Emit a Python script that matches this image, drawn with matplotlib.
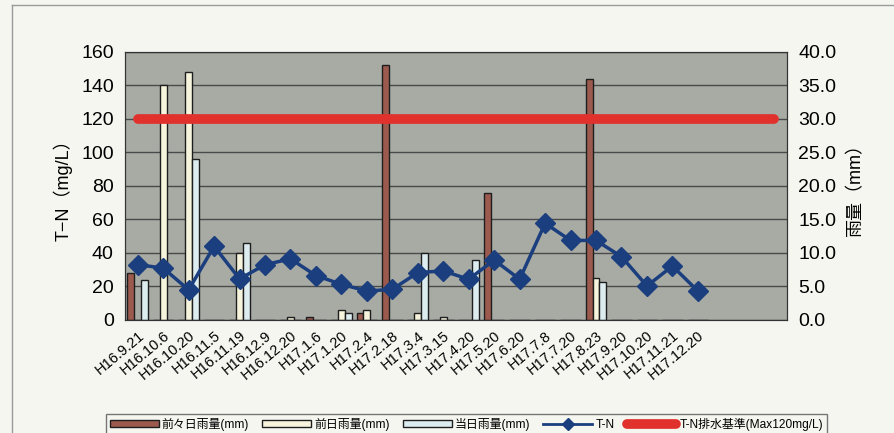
import numpy as np
import matplotlib.pyplot as plt
from matplotlib.lines import Line2D
from matplotlib.patches import Patch

plt.rcParams['font.family'] = ['Liberation Sans', 'Noto Sans CJK JP', 'DejaVu Sans']

# ── Data ───────────────────────────────────────────────────
dates = ["H16.9.21", "H16.10.6", "H16.10.20", "H16.11.5", "H16.11.19", "H16.12.9",
         "H16.12.20", "H17.1.6", "H17.1.20", "H17.2.4", "H17.2.18", "H17.3.4",
         "H17.3.15", "H17.4.20", "H17.5.20", "H17.6.20", "H17.7.8", "H17.7.20",
         "H17.8.23", "H17.9.20", "H17.10.20", "H17.11.21", "H17.12.20"]
n_slots = 26  # category axis has three empty slots at the right

rain_2days = [7.0, 0, 0, 0, 0, 0, 0, 0.5, 0, 1.0, 38.0, 0, 0, 0, 19.0, 0, 0, 0,
              36.0, 0, 0, 0, 0]
rain_1day = [0, 35.0, 37.0, 0, 10.0, 0, 0.5, 0, 1.5, 1.5, 0, 1.0, 0.5, 0, 0, 0, 0, 0,
             6.2, 0, 0, 0, 0]
rain_today = [6.0, 0, 24.0, 0, 11.5, 0, 0, 0, 1.0, 0, 0, 10.0, 0, 9.0, 0, 0, 0, 0,
              5.7, 0, 0, 0, 0]
tn = [33.0, 31.0, 18.0, 44.0, 24.5, 33.0, 36.5, 26.5, 21.3, 17.3, 18.3, 28.3, 29.3,
      24.3, 35.8, 24.3, 57.7, 47.5, 47.5, 37.8, 20.3, 32.2, 17.3]
tn_limit = 120

# ── Figure ─────────────────────────────────────────────────
fig = plt.figure(figsize=(8.94, 4.33), dpi=100, facecolor="#f6f6f1")
ax = fig.add_axes([0.1398, 0.261, 0.7405, 0.619])
ax2 = ax.twinx()

# bars live on the rain axis, drawn underneath the T-N axis
ax.set_zorder(ax2.get_zorder() + 1)
ax.patch.set_visible(False)
ax2.patch.set_visible(True)
ax2.set_facecolor("#a8aba4")

x = np.arange(len(dates))
w = 0.27
edge = dict(edgecolor="#1e1e1e", linewidth=1.0)
ax2.bar(x - w, rain_2days, w, color="#9c5a4e", **edge)
ax2.bar(x, rain_1day, w, color="#f6f4dc", **edge)
ax2.bar(x + w, rain_today, w, color="#dcecef", **edge)

ax2.set_ylim(0, 40)
ax2.set_yticks(np.arange(0, 41, 5))
ax2.set_yticklabels([f"{v:.1f}" for v in np.arange(0, 41, 5)])
ax2.grid(axis="y", color="#4a4a4a", linewidth=1.0)
ax2.set_axisbelow(True)

xs = np.arange(n_slots)
ax.plot(xs, np.full(n_slots, tn_limit), color="#e0312d", linewidth=7,
        solid_capstyle="round", zorder=2)
ax.plot(x, tn, color="#1b3e7e", linewidth=2.5, marker="D", markersize=10,
        markeredgecolor="#1b3e7e", zorder=3)

ax.set_ylim(0, 160)
ax.set_yticks(np.arange(0, 161, 20))
ax.set_xlim(-0.5, n_slots - 0.5)
ax.set_xticks(xs)
ax.set_xticklabels(dates + [""] * (n_slots - len(dates)), rotation=40,
                   ha="right", va="top", rotation_mode="anchor", fontsize=10.5)

for a in (ax, ax2):
    a.tick_params(axis="y", length=0, labelsize=14, pad=8)
    a.tick_params(axis="x", length=0, pad=6)
    for s in a.spines.values():
        s.set_color("#333333")
        s.set_linestyle((0, (2, 1)))
ax.spines["bottom"].set_linestyle("-")
ax2.spines["bottom"].set_linestyle("-")

ax.set_ylabel("T−N（mg/L）", fontsize=13, labelpad=6)
ax2.set_ylabel("雨量（mm）", fontsize=13, labelpad=8)

# ── Legend ─────────────────────────────────────────────────
handles = [
    Patch(facecolor="#9c5a4e", edgecolor="#1e1e1e"),
    Patch(facecolor="#f6f4dc", edgecolor="#1e1e1e"),
    Patch(facecolor="#dcecef", edgecolor="#1e1e1e"),
    Line2D([], [], color="#1b3e7e", linewidth=2, marker="D", markersize=6),
    Line2D([], [], color="#e0312d", linewidth=7, solid_capstyle="round"),
]
labels = ["前々日雨量(mm)", "前日雨量(mm)", "当日雨量(mm)", "T-N", "T-N排水基準(Max120mg/L)"]
leg = fig.legend(handles, labels, loc="upper left",
                 bbox_to_anchor=(106 / 894, 1 - 414 / 433),
                 bbox_transform=fig.transFigure, borderaxespad=0,
                 ncol=5, fontsize=8.6, handlelength=4.1, handleheight=0.55,
                 columnspacing=1.1, handletextpad=0.25, frameon=True, fancybox=False,
                 borderpad=0.3)
leg.get_frame().set_edgecolor("#555555")
leg.get_frame().set_facecolor("#f6f6f1")

# outer chart frame
fig.add_artist(Line2D([12 / 894, 12 / 894], [0, 1 - 5 / 433], color="#9a9a9a",
                      linewidth=1, transform=fig.transFigure))
fig.add_artist(Line2D([12 / 894, 1], [1 - 5 / 433, 1 - 5 / 433], color="#9a9a9a",
                      linewidth=1, transform=fig.transFigure))

fig.savefig("out.png", dpi=100, facecolor=fig.get_facecolor())
